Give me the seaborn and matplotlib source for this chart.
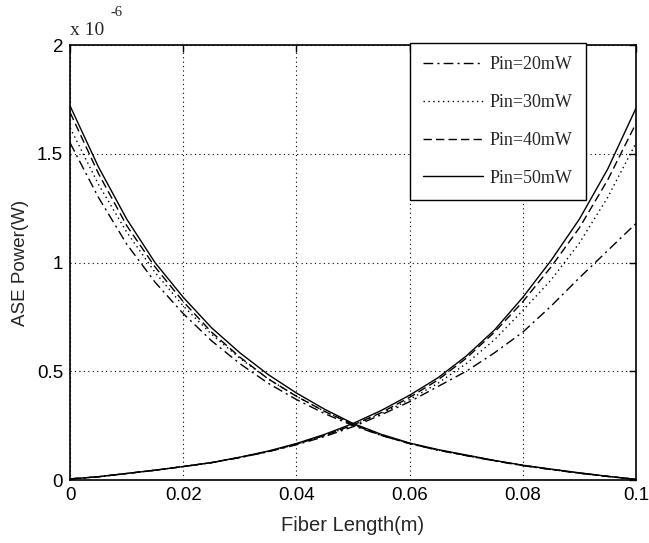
import numpy as np
import pandas as pd
import seaborn as sns
import matplotlib
matplotlib.use('Agg')
import matplotlib.pyplot as plt
from matplotlib.lines import Line2D

# fiber position (m)
length = [0, 0.005, 0.01, 0.015, 0.02, 0.025, 0.03, 0.035, 0.04, 0.045, 0.05,
          0.055, 0.06, 0.065, 0.07, 0.075, 0.08, 0.085, 0.09, 0.095, 0.1]

# backward ASE (x 1e-6 W)
bwd_20 = [1.55, 1.30, 1.085, 0.91, 0.765, 0.64, 0.535, 0.445, 0.37, 0.305, 0.25,
          0.205, 0.167, 0.137, 0.112, 0.088, 0.066, 0.048, 0.031, 0.016, 0.003]
bwd_30 = [1.62, 1.36, 1.14, 0.955, 0.80, 0.67, 0.56, 0.465, 0.385, 0.315, 0.258,
          0.207, 0.168, 0.138, 0.113, 0.089, 0.067, 0.049, 0.032, 0.017, 0.003]
bwd_40 = [1.69, 1.41, 1.17, 0.98, 0.82, 0.68, 0.565, 0.465, 0.385, 0.315, 0.255,
          0.205, 0.168, 0.138, 0.113, 0.089, 0.067, 0.049, 0.032, 0.017, 0.003]
bwd_50 = [1.72, 1.44, 1.20, 1.00, 0.84, 0.70, 0.585, 0.485, 0.40, 0.325, 0.26,
          0.21, 0.17, 0.14, 0.115, 0.09, 0.068, 0.05, 0.033, 0.017, 0.003]

# forward ASE (x 1e-6 W)
fwd_20 = [0.005, 0.015, 0.03, 0.045, 0.062, 0.08, 0.103, 0.13, 0.162, 0.2, 0.245,
          0.30, 0.36, 0.43, 0.50, 0.585, 0.68, 0.80, 0.93, 1.055, 1.18]
fwd_30 = [0.005, 0.015, 0.03, 0.045, 0.062, 0.08, 0.104, 0.131, 0.165, 0.205, 0.252,
          0.305, 0.37, 0.445, 0.535, 0.645, 0.78, 0.92, 1.09, 1.30, 1.55]
fwd_40 = [0.005, 0.015, 0.03, 0.045, 0.062, 0.08, 0.104, 0.131, 0.165, 0.205, 0.253,
          0.31, 0.38, 0.46, 0.56, 0.68, 0.82, 0.98, 1.16, 1.38, 1.64]
fwd_50 = [0.005, 0.015, 0.03, 0.045, 0.062, 0.08, 0.105, 0.133, 0.168, 0.21, 0.26,
          0.32, 0.39, 0.47, 0.57, 0.69, 0.84, 1.01, 1.20, 1.43, 1.71]

labels = ['Pin=20mW', 'Pin=30mW', 'Pin=40mW', 'Pin=50mW']
styles = [(0, (7, 3, 1.5, 3)), (0, (1, 2.5)), (0, (6, 3)), '-']

sns.set_style('white')
plt.rcParams['font.family'] = ['Liberation Sans', 'DejaVu Sans']

fig = plt.figure(figsize=(6.49, 5.43), dpi=100)
ax = fig.add_axes([0.108, 0.116, 0.872, 0.801])

for bwd, fwd, ls in zip([bwd_20, bwd_30, bwd_40, bwd_50],
                        [fwd_20, fwd_30, fwd_40, fwd_50], styles):
    sns.lineplot(x=length, y=bwd, ax=ax, color='black', lw=1.0, linestyle=ls)
    sns.lineplot(x=length, y=fwd, ax=ax, color='black', lw=1.0, linestyle=ls)

ax.set_xlim(0, 0.1)
ax.set_ylim(0, 2)
ax.set_xticks([0, 0.02, 0.04, 0.06, 0.08, 0.1])
ax.set_xticklabels(['0', '0.02', '0.04', '0.06', '0.08', '0.1'])
ax.set_yticks([0, 0.5, 1, 1.5, 2])
ax.set_yticklabels(['0', '0.5', '1', '1.5', '2'])
ax.tick_params(direction='in', length=5, width=1, labelsize=13.5, colors='black',
               top=True, right=True, pad=5)
ax.grid(True, color='black', linestyle=(0, (1, 3)), linewidth=0.8)
for s in ax.spines.values():
    s.set_color('black')
    s.set_linewidth(1.2)

ax.set_xlabel('Fiber Length(m)', fontsize=14.5, labelpad=9)
ax.set_ylabel('ASE Power(W)', fontsize=13.5, labelpad=6)

ax.text(0.0, 1.015, 'x 10', transform=ax.transAxes, family='Liberation Serif',
        fontsize=14, ha='left', va='bottom')
ax.text(0.072, 1.06, '-6', transform=ax.transAxes, family='Liberation Serif',
        fontsize=10.5, ha='left', va='bottom')

handles = [Line2D([], [], color='black', lw=1.0, linestyle=ls) for ls in styles]
leg = ax.legend(handles, labels, loc='upper left', bbox_to_anchor=(0.60, 1.005),
                prop={'family': 'Liberation Serif', 'size': 13},
                labelspacing=1.15, handlelength=3.3, handletextpad=0.4,
                borderpad=0.75, borderaxespad=0, fancybox=False, framealpha=1)
leg.get_frame().set_edgecolor('black')
leg.get_frame().set_linewidth(1.0)

fig.savefig('out.png', dpi=100, facecolor='white')
